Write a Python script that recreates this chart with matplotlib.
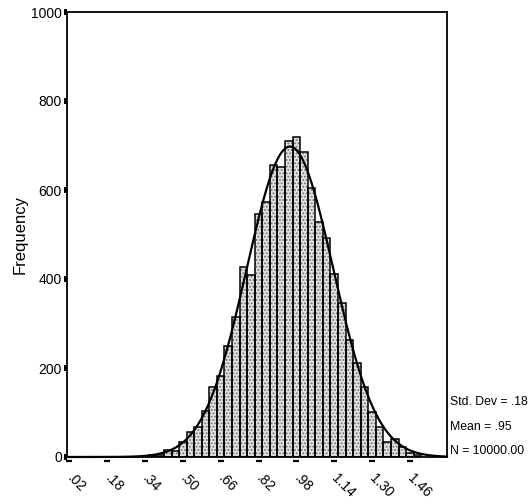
import numpy as np
import matplotlib

matplotlib.use("Agg")
import matplotlib.pyplot as plt
from matplotlib import font_manager
from matplotlib.transforms import offset_copy


WIDTH = 531
HEIGHT = 504
DPI = 100

# histogram: regular bins, 0.032 wide
BIN_WIDTH = 0.032
FIRST_CENTER = 0.372
COUNTS = [
    4, 4, 16, 13, 34, 57, 68, 104, 158, 182,
    249, 315, 428, 409, 546, 574, 656, 651, 709, 718,
    686, 604, 529, 493, 411, 345, 264, 211, 158, 102,
    67, 34, 40, 22, 10, 4,
]
N_TOTAL = 10000
MEAN = 0.953
STD = 0.183

XTICKS = [0.02, 0.18, 0.34, 0.50, 0.66, 0.82, 0.98, 1.14, 1.30, 1.46]
XTICK_LABELS = [".02", ".18", ".34", ".50", ".66", ".82", ".98", "1.14", "1.30", "1.46"]
YTICKS = [0, 200, 400, 600, 800, 1000]
STATS = ["Std. Dev = .18", "Mean = .95", "N = 10000.00"]

XLIM = (0.010, 1.617)
YLIM = (0, 1000)

# axes box in pixels (left, top, right, bottom)
AX_BOX = (67, 12, 447, 457)


def pick_family():
    for name in ("Liberation Sans Narrow", "Liberation Sans"):
        try:
            font_manager.findfont(name, fallback_to_default=False)
            return name
        except ValueError:
            pass
    return "DejaVu Sans"


FAMILY = pick_family()
NARROW = FAMILY == "Liberation Sans Narrow"
TICK_SIZE = 10.5 if NARROW else 10
STAT_SIZE = 10.5 if NARROW else 8.8


def fx(px):
    return px / WIDTH


def fy(py):
    return 1 - py / HEIGHT


def draw_bars(ax):
    centers = FIRST_CENTER + BIN_WIDTH * np.arange(len(COUNTS))
    ax.bar(centers, COUNTS, width=BIN_WIDTH, color="#e2e2e2", edgecolor="#707070",
           hatch=".....", linewidth=0)
    ax.bar(centers, COUNTS, width=BIN_WIDTH, fill=False, edgecolor="black", linewidth=1.1)


def draw_curve(ax):
    xs = np.linspace(XLIM[0], XLIM[1], 400)
    ys = N_TOTAL * BIN_WIDTH / (STD * np.sqrt(2 * np.pi)) * np.exp(-0.5 * ((xs - MEAN) / STD) ** 2)
    ax.plot(xs, ys, color="black", linewidth=1.6, clip_on=False)


def style_axes(fig, ax):
    ax.set_xlim(*XLIM)
    ax.set_ylim(*YLIM)
    for spine in ax.spines.values():
        spine.set_linewidth(1.3)
        spine.set_color("black")

    ax.set_yticks(YTICKS)
    ax.tick_params(axis="y", length=2.2, width=4.3, pad=1.5, labelsize=TICK_SIZE)

    ax.set_xticks(XTICKS, XTICK_LABELS)
    ax.tick_params(axis="x", length=0, pad=14, labelsize=TICK_SIZE)
    for lbl in ax.get_xticklabels():
        lbl.set_rotation(-45)
        lbl.set_rotation_mode("anchor")
        lbl.set_ha("left")
        lbl.set_va("center")

    # x tick dashes sit a little below the frame
    trans = offset_copy(ax.get_xaxis_transform(), fig=fig, x=0, y=-4, units="dots")
    ax.plot(XTICKS, [0] * len(XTICKS), transform=trans, linestyle="none", marker="_",
            markersize=4.3, markeredgewidth=1.6, color="black", clip_on=False)


def draw_texts(fig):
    fig.text(fx(20), fy(235), "Frequency", rotation=90, ha="center", va="center",
             fontsize=12, family="Liberation Sans")
    for text, py in zip(STATS, (402, 427, 451)):
        fig.text(fx(450), fy(py), text, ha="left", va="center", fontsize=STAT_SIZE)


def main():
    plt.rcParams["font.family"] = [FAMILY, "DejaVu Sans"]
    plt.rcParams["hatch.linewidth"] = 0.9

    fig = plt.figure(figsize=(WIDTH / DPI, HEIGHT / DPI), dpi=DPI, facecolor="white")
    left, top, right, bottom = AX_BOX
    ax = fig.add_axes([fx(left), fy(bottom), (right - left) / WIDTH, (bottom - top) / HEIGHT])

    draw_bars(ax)
    draw_curve(ax)
    style_axes(fig, ax)
    draw_texts(fig)

    fig.savefig("out.png", dpi=DPI, facecolor="white")
    plt.close(fig)


if __name__ == "__main__":
    main()
